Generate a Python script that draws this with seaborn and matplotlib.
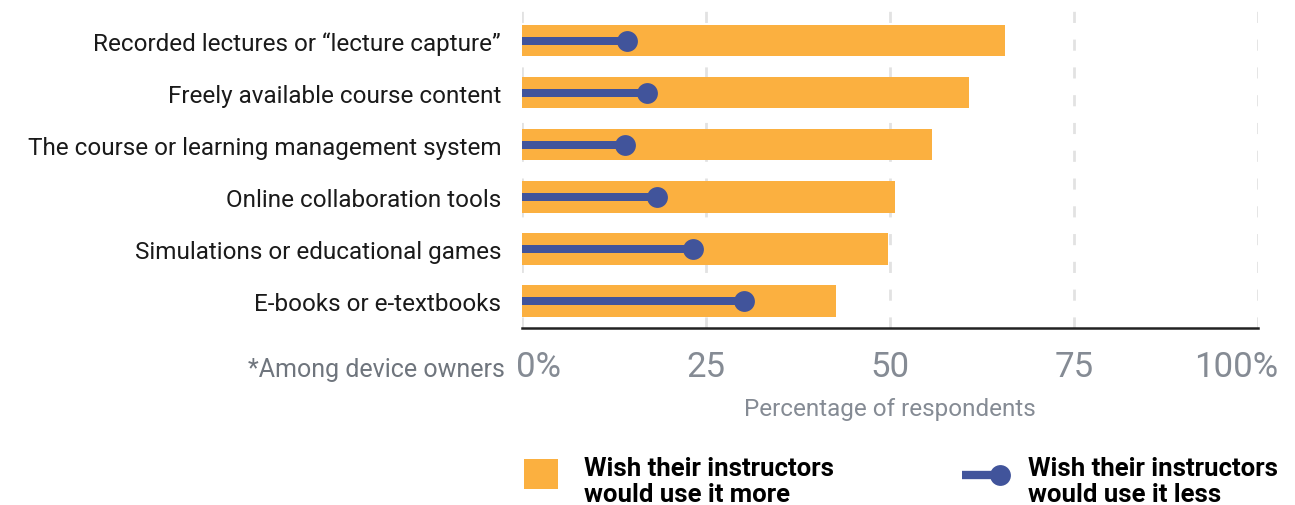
import matplotlib
matplotlib.use("Agg")
import matplotlib.pyplot as plt
import matplotlib.transforms as mtransforms
from matplotlib.patches import Rectangle
from matplotlib.lines import Line2D
import seaborn as sns
import pandas as pd

# Survey data: share of respondents (device owners) per technology
tools = [
    "Recorded lectures or \u201clecture capture\u201d",
    "Freely available course content",
    "The course or learning management system",
    "Online collaboration tools",
    "Simulations or educational games",
    "E-books or e-textbooks",
]
use_more = [65.6, 60.7, 55.7, 50.7, 49.7, 42.7]
use_less = [14.3, 17.0, 14.0, 18.4, 23.2, 30.1]
tick_values = [0, 25, 50, 75, 100]
tick_labels = ["0%", "25", "50", "75", "100%"]

ORANGE = "#FBB040"
BLUE = "#41549B"
GREY = "#858B94"

df = pd.DataFrame({"tool": tools, "more": use_more, "less": use_less})

sns.set_theme(style="white")
plt.rcParams["font.family"] = ["Roboto", "DejaVu Sans"]

fig = plt.figure(figsize=(12.95, 5.06), dpi=100)
ax = fig.add_axes([0.4031, 0.3498, 0.5683, 0.6344])

# "Use it more" bars
sns.barplot(data=df, x="more", y="tool", color=ORANGE, saturation=1,
            width=0.6, linewidth=0, ax=ax)
# "Use it less" lollipops: thin stem + round head
sns.barplot(data=df, x="less", y="tool", color=BLUE, saturation=1,
            width=0.15, linewidth=0, ax=ax)
sns.stripplot(data=df, x="less", y="tool", color=BLUE, size=15,
              jitter=False, linewidth=0, ax=ax, zorder=5)

ax.set_xlim(0, 100)
ax.set_ylim(5.52, -0.65)
ax.set_xticks(tick_values)
ax.set_xticklabels(tick_labels)
ax.tick_params(axis="x", length=0, pad=16, labelsize=25, labelcolor=GREY)
ax.tick_params(axis="y", length=0, pad=15, labelsize=17.5, labelcolor="#1a1a1a")
xt = ax.get_xticklabels()
xt[0].set_ha("left")
xt[0].set_transform(xt[0].get_transform()
                    + mtransforms.ScaledTranslation(-6 / 100, 0, fig.dpi_scale_trans))
xt[-1].set_ha("right")
xt[-1].set_transform(xt[-1].get_transform()
                     + mtransforms.ScaledTranslation(20 / 100, 0, fig.dpi_scale_trans))

ax.set_ylabel("")
ax.set_xlabel("Percentage of respondents", fontsize=17.5, color=GREY)
ax.xaxis.label.set_va("center")
ax.xaxis.set_label_coords(0.5, -0.25)

ax.set_axisbelow(True)
ax.xaxis.grid(True, color="#e2e2e2", linewidth=2.0, linestyle=(0, (4, 6)))
ax.yaxis.grid(False)
for side in ("top", "right", "left"):
    ax.spines[side].set_visible(False)
ax.spines["bottom"].set_color("#222222")
ax.spines["bottom"].set_linewidth(1.8)

fig.text(505 / 1295, 1 - 377 / 506, "*Among device owners", ha="right",
         va="baseline", fontsize=18, color="#6f757d")

# Legend drawn on an overlay in pixel units
lg = fig.add_axes([0, 0, 1, 1], zorder=10)
lg.set_xlim(0, 1295)
lg.set_ylim(506, 0)
lg.axis("off")
lg.add_patch(Rectangle((524, 460), 34, 30, color=ORANGE, lw=0))
lg.add_line(Line2D([962, 1000], [476, 476], color=BLUE, lw=6,
                   solid_capstyle="butt"))
lg.add_line(Line2D([1000], [476], color=BLUE, marker="o", markersize=15,
                   linestyle="none", markeredgewidth=0))
for x0, lines in ((584, ["Wish their instructors", "would use it more"]),
                  (1028, ["Wish their instructors", "would use it less"])):
    for yb, line in zip((476, 502), lines):
        lg.text(x0, yb, line, ha="left", va="baseline", fontsize=18.5,
                fontweight="bold", color="black")

fig.savefig("out.png", dpi=100)
